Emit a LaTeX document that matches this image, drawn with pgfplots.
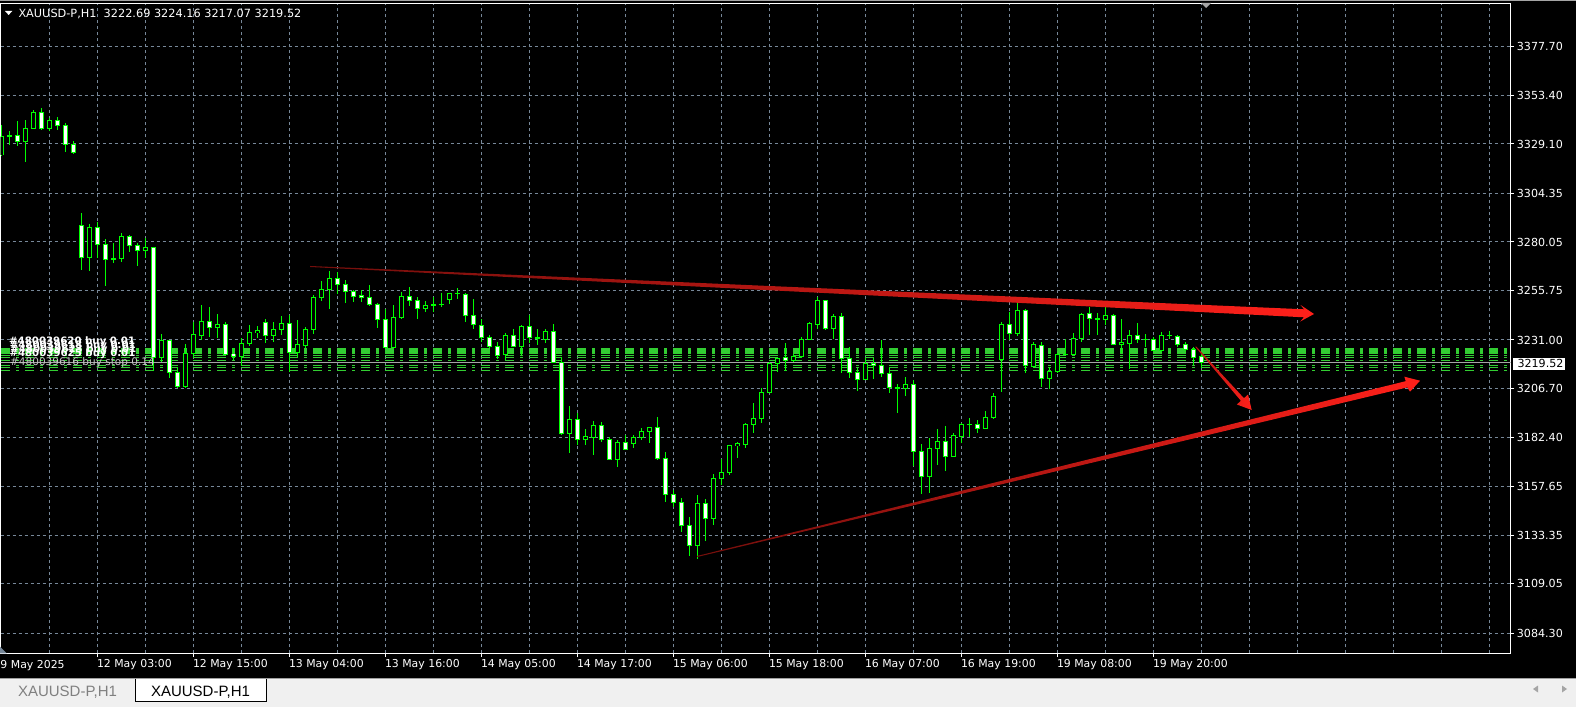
\documentclass[border=0pt]{standalone}
\usepackage{pgfplots}
\pgfplotsset{compat=1.18}
\usepackage{pgfplotstable}
\usepackage{fontspec}
\setmainfont{DejaVu Sans}
\newfontfamily\tabfont{Liberation Sans}
\definecolor{gridc}{RGB}{119,136,153}
\definecolor{cg}{RGB}{0,255,0}
\definecolor{ordg}{RGB}{50,205,50}
\definecolor{arred}{RGB}{255,32,26}
\definecolor{tabbg}{RGB}{240,240,240}
\definecolor{bidg}{RGB}{165,165,165}
\newcommand\fs[1]{\fontsize{#1}{#1}\selectfont}

\pgfplotstableread{
i o h l c
0 3323.6 3338.6 3323.3 3333.1
1 3333.2 3335.5 3328.8 3333.3
2 3333.3 3340.5 3328.2 3330.3
3 3330.2 3341.2 3320.2 3336.8
4 3336.8 3346.0 3336.5 3344.8
5 3344.8 3347.3 3336.2 3336.8
6 3336.8 3342.2 3335.5 3340.8
7 3340.8 3342.8 3336.2 3338.5
8 3338.3 3339.8 3325.2 3328.8
9 3328.8 3330.5 3324.2 3324.8
10 3288.5 3294.7 3266.0 3272.3
11 3272.2 3289.0 3265.7 3287.3
12 3287.3 3290.2 3271.8 3278.8
13 3278.8 3281.8 3258.2 3271.3
14 3271.5 3279.5 3269.3 3271.8
15 3271.8 3284.5 3270.2 3282.8
16 3282.8 3283.8 3275.2 3278.2
17 3278.3 3279.8 3268.2 3275.8
18 3275.8 3281.8 3272.2 3277.3
19 3277.3 3277.7 3215.5 3222.3
20 3222.3 3234.0 3220.2 3230.7
21 3230.7 3230.7 3212.2 3214.8
22 3214.8 3217.7 3206.8 3207.7
23 3207.7 3229.0 3206.8 3224.3
24 3224.3 3240.2 3222.0 3233.5
25 3233.2 3248.5 3231.0 3240.5
26 3240.5 3247.5 3232.7 3237.2
27 3237.2 3243.8 3232.2 3238.8
28 3238.8 3239.8 3223.5 3223.8
29 3224.0 3227.2 3220.8 3222.8
30 3222.7 3231.8 3218.0 3229.3
31 3229.3 3238.5 3228.2 3234.8
32 3234.7 3238.0 3231.8 3235.8
33 3239.8 3241.5 3229.3 3233.2
34 3233.2 3240.2 3230.2 3236.5
35 3236.5 3243.0 3233.5 3239.3
36 3239.3 3243.5 3215.2 3224.7
37 3224.7 3241.0 3222.7 3228.5
38 3228.2 3237.7 3226.8 3236.5
39 3236.2 3253.5 3234.0 3252.5
40 3252.2 3260.5 3250.5 3256.3
41 3256.3 3265.5 3246.5 3261.8
42 3261.8 3264.8 3253.8 3258.8
43 3258.8 3261.0 3249.7 3255.2
44 3255.2 3256.0 3250.2 3252.7
45 3253.5 3256.0 3250.2 3252.2
46 3252.3 3258.5 3248.2 3248.8
47 3248.8 3249.3 3236.8 3241.3
48 3241.3 3246.5 3226.8 3227.2
49 3227.2 3248.5 3226.8 3242.3
50 3242.3 3255.2 3241.5 3253.0
51 3253.0 3257.3 3248.0 3250.7
52 3251.0 3252.3 3241.5 3246.7
53 3246.7 3250.3 3245.0 3248.3
54 3248.7 3252.3 3245.0 3248.7
55 3249.0 3254.7 3247.3 3249.0
56 3251.3 3254.3 3249.0 3254.3
57 3254.3 3257.0 3251.7 3254.3
58 3253.8 3254.3 3240.0 3243.3
59 3243.3 3251.5 3236.7 3238.7
60 3238.3 3241.3 3230.2 3232.3
61 3232.3 3233.5 3226.8 3227.7
62 3227.8 3230.2 3221.3 3223.2
63 3223.7 3234.3 3221.0 3233.3
64 3233.5 3236.3 3227.7 3228.0
65 3228.0 3238.5 3223.5 3238.0
66 3238.0 3243.5 3229.7 3232.3
67 3232.2 3236.3 3228.5 3232.2
68 3231.5 3236.3 3229.3 3235.5
69 3235.5 3239.0 3219.3 3219.7
70 3219.7 3222.3 3183.5 3184.0
71 3184.0 3198.0 3174.3 3191.0
72 3191.0 3194.3 3178.5 3181.3
73 3181.2 3186.5 3178.5 3182.5
74 3182.3 3190.7 3173.5 3188.0
75 3188.0 3190.0 3180.2 3181.3
76 3181.3 3182.3 3171.0 3171.3
77 3171.3 3181.0 3167.2 3179.8
78 3179.8 3183.2 3176.3 3176.3
79 3179.3 3183.3 3176.7 3182.3
80 3182.3 3186.8 3180.7 3185.3
81 3185.3 3187.3 3179.7 3187.3
82 3187.3 3192.5 3170.7 3171.8
83 3171.8 3174.8 3149.8 3153.8
84 3153.8 3156.0 3147.3 3149.8
85 3149.8 3151.8 3134.7 3138.0
86 3138.0 3142.3 3122.7 3128.3
87 3128.3 3153.5 3121.3 3149.3
88 3149.3 3151.5 3130.2 3141.8
89 3141.8 3164.0 3138.2 3161.8
90 3161.8 3171.3 3158.5 3164.8
91 3164.8 3178.5 3163.2 3178.0
92 3178.0 3179.8 3171.8 3179.0
93 3178.8 3189.3 3176.8 3188.5
94 3188.5 3199.3 3184.7 3191.8
95 3191.8 3206.8 3189.7 3204.8
96 3204.8 3220.2 3204.3 3219.3
97 3219.3 3221.8 3215.2 3221.8
98 3222.2 3229.3 3215.5 3220.8
99 3220.8 3224.0 3220.2 3222.7
100 3222.7 3232.7 3221.8 3231.3
101 3231.3 3240.2 3231.0 3239.3
102 3238.8 3252.3 3236.3 3251.0
103 3251.0 3251.0 3236.0 3236.7
104 3236.7 3244.0 3231.3 3243.0
105 3243.0 3244.3 3214.7 3221.8
106 3221.8 3227.3 3212.2 3214.7
107 3214.7 3216.8 3205.7 3211.3
108 3211.3 3221.8 3211.0 3219.3
109 3219.3 3221.8 3211.3 3218.3
110 3218.2 3231.0 3212.3 3214.3
111 3214.3 3217.7 3204.7 3207.3
112 3207.2 3209.0 3194.7 3207.2
113 3206.7 3212.3 3203.0 3208.8
114 3208.8 3211.0 3168.0 3175.3
115 3175.3 3179.0 3153.8 3162.7
116 3162.7 3181.7 3154.3 3176.8
117 3176.8 3186.3 3168.5 3180.3
118 3180.3 3188.0 3165.2 3172.7
119 3172.7 3184.7 3172.2 3183.0
120 3182.7 3189.3 3179.3 3188.8
121 3188.8 3191.8 3182.7 3188.8
122 3188.8 3191.0 3184.3 3186.8
123 3186.8 3195.5 3186.3 3192.3
124 3192.3 3204.3 3191.7 3202.7
125 3221.0 3240.2 3205.2 3238.8
126 3238.8 3245.2 3231.0 3234.3
127 3234.3 3249.3 3233.0 3245.7
128 3245.7 3246.3 3214.3 3218.0
129 3217.7 3230.2 3217.3 3228.5
130 3228.5 3230.2 3207.7 3211.8
131 3211.8 3217.7 3206.3 3215.3
132 3215.3 3224.3 3214.3 3223.8
133 3223.8 3231.3 3223.5 3223.8
134 3223.8 3234.3 3223.5 3231.8
135 3231.8 3244.3 3230.2 3243.8
136 3244.3 3247.3 3233.5 3241.8
137 3241.7 3244.7 3233.5 3241.7
138 3241.3 3247.7 3238.5 3243.3
139 3243.3 3244.0 3228.5 3228.8
140 3228.8 3241.3 3224.3 3229.8
141 3229.3 3236.0 3216.3 3233.3
142 3233.3 3239.3 3229.3 3231.3
143 3231.3 3234.0 3227.3 3231.3
144 3231.3 3232.7 3225.7 3226.0
145 3226.0 3235.2 3225.2 3233.3
146 3233.3 3235.3 3231.3 3233.3
147 3232.7 3233.3 3227.3 3228.8
148 3228.8 3230.2 3225.7 3226.3
149 3226.3 3227.7 3218.5 3222.2
150 3222.69 3224.16 3217.07 3219.52
}\candles

\begin{document}
\begin{tikzpicture}[x=1pt,y=1pt]
\useasboundingbox (0,0) rectangle (1576,707);
\fill[black] (0,0) rectangle (1576,707);
\fill[bidg] (0,705.6) rectangle (1576,707);
% tab bar
\fill[tabbg] (0,0) rectangle (1576,28.7);
\draw[line width=1pt, color={rgb,255:red,160;green,160;blue,160}] (0,28.5) -- (1576,28.5);
\fill[white] (135.5,5.5) rectangle (266.5,28.5);
\draw[black, line width=1pt] (135.5,28.5) -- (135.5,5.5) -- (266.5,5.5) -- (266.5,28.5);
\node[anchor=base, inner sep=0pt, text={rgb,255:red,128;green,128;blue,128}, font=\tabfont\fs{15}] at (67.5,10.3) {XAUUSD-P,H1};
\node[anchor=base, inner sep=0pt, text=black, font=\tabfont\fs{15}] at (200.5,10.3) {XAUUSD-P,H1};
\fill[bidg] (1538,14.5) -- (1533,18) -- (1538,21.5) -- cycle;
\fill[bidg] (1562,14.5) -- (1567,18) -- (1562,21.5) -- cycle;

\begin{axis}[
  at={(0.5pt,53.7pt)}, anchor=south west,
  scale only axis, width=1510pt, height=650pt,
  xmin=-0.1, xmax=188.65, ymin=3074.19, ymax=3399.52,
  axis line style={white, line width=1pt},
  tick align=outside,
  major tick length=3.5pt, minor tick length=0pt,
  tick style={white, line width=1pt},
  xtick pos=left, ytick pos=right, yticklabel pos=right,
  xtick={12,24,36,48,60,72,84,96,108,120,132,144},
  xticklabels={12 May 03:00,12 May 15:00,13 May 04:00,13 May 16:00,14 May 05:00,14 May 17:00,15 May 06:00,15 May 18:00,16 May 07:00,16 May 19:00,19 May 08:00,19 May 20:00},
  minor xtick={6,18,30,42,54,66,78,90,102,114,126,138,150,156,162,168,174,180,186},
  ytick={3084.30,3109.05,3133.35,3157.65,3182.40,3206.70,3231.00,3255.75,3280.05,3304.35,3329.10,3353.40,3377.70},
  yticklabels={3084.30,3109.05,3133.35,3157.65,3182.40,3206.70,3231.00,3255.75,3280.05,3304.35,3329.10,3353.40,3377.70},
  grid=both,
  major grid style={gridc, line width=1pt, dash pattern=on 3pt off 3pt},
  minor grid style={gridc, line width=1pt, dash pattern=on 3pt off 3pt},
  xticklabel style={font=\fs{10.9}, text=white, anchor=base west, inner sep=0pt, xshift=-0.5pt, yshift=-11pt},
  yticklabel style={font=\fs{11.1}, text=white, anchor=west, inner sep=0pt, xshift=2.7pt},
]
% order lines
\addplot[ordg, line width=6.3pt, dash pattern=on 9pt off 6pt on 3pt off 6pt, forget plot] coordinates {(-0.0375,3225.57) (189,3225.57)};
\addplot[ordg, line width=1pt, dash pattern=on 9pt off 6pt on 3pt off 6pt, forget plot] coordinates {(-0.0375,3223.14) (189,3223.14)};
\addplot[ordg, line width=1pt, dash pattern=on 9pt off 6pt on 3pt off 6pt, forget plot] coordinates {(-0.0375,3221.99) (189,3221.99)};
\addplot[ordg, line width=1pt, dash pattern=on 9pt off 6pt on 3pt off 6pt, forget plot] coordinates {(-0.0375,3220.84) (189,3220.84)};
\addplot[ordg, line width=1pt, dash pattern=on 9pt off 6pt on 3pt off 6pt, forget plot] coordinates {(-0.0375,3218.34) (189,3218.34)};
\addplot[ordg, line width=1pt, dash pattern=on 9pt off 6pt on 3pt off 6pt, forget plot] coordinates {(-0.0375,3217.14) (189,3217.14)};
\addplot[ordg, line width=1pt, dash pattern=on 9pt off 6pt on 3pt off 6pt, forget plot] coordinates {(-0.0375,3215.98) (189,3215.98)};
% bid line
\addplot[bidg, line width=1pt, forget plot] coordinates {(-1,3219.52) (190,3219.52)};
% wicks
\addplot[draw=none, mark=none, forget plot, error bars/.cd, y dir=both, y explicit, error mark=none,
  error bar style={draw=cg, solid, line width=1pt}]
  table[x=i, y expr={(\thisrow{h}+\thisrow{l})/2}, y error expr={(\thisrow{h}-\thisrow{l})/2}] {\candles};
% body outline
\addplot[draw=none, mark=none, forget plot, error bars/.cd, y dir=both, y explicit, error mark=none,
  error bar style={draw=cg, solid, line width=5pt}]
  table[x=i, y expr={(\thisrow{o}+\thisrow{c})/2}, y error expr={abs(\thisrow{c}-\thisrow{o})/2+0.25}] {\candles};
% bear inner (white)
\addplot[draw=none, mark=none, forget plot, error bars/.cd, y dir=both, y explicit, error mark=none,
  error bar style={draw=white, solid, line width=3pt}]
  table[x=i, y expr={(\thisrow{o}+\thisrow{c})/2}, y error expr={max(0,(\thisrow{o}-\thisrow{c})/2-0.25)}] {\candles};
% bull inner (black)
\addplot[draw=none, mark=none, forget plot, error bars/.cd, y dir=both, y explicit, error mark=none,
  error bar style={draw=black, solid, line width=3pt}]
  table[x=i, y expr={(\thisrow{o}+\thisrow{c})/2}, y error expr={max(0,(\thisrow{c}-\thisrow{o})/2-0.25)}] {\candles};
% red arrows (drawn objects)
\addplot[draw=none, left color=arred!45!black, right color=arred, forget plot] coordinates {
 (38.59,3268.04) (162.84,3246.37) (162.40,3248.52) (164.09,3244.01) (162.34,3240.21) (162.84,3242.36) (38.59,3267.54)} -- cycle;
\addplot[draw=none, left color=arred!45!black, right color=arred, forget plot] coordinates {
 (86.95,3122.89) (175.55,3210.38) (175.38,3212.63) (177.34,3210.63) (176.09,3205.12) (175.75,3207.28) (86.98,3122.39)} -- cycle;
\addplot[draw=none, left color=arred!70!black, right color=arred, forget plot] coordinates {
 (149.35,3227.80) (155.33,3201.87) (155.84,3203.72) (156.30,3195.96) (154.44,3198.72) (154.95,3200.57) (149.25,3227.50)} -- cycle;
\end{axis}

% title
\fill[white] (5,696) -- (12.3,696) -- (8.65,692) -- cycle;
\node[anchor=base west, inner sep=0pt, text=white, font=\fs{11.3}] at (18.3,689.6) {XAUUSD-P,H1~~3222.69 3224.16 3217.07 3219.52};
% first date label
\node[anchor=base west, inner sep=0pt, text=white, font=\fs{10.9}] at (0.3,38.7) {9 May 2025};
% chart shift markers
\fill[bidg] (1201,704) -- (1211,704) -- (1206,699) -- cycle;
\fill[gridc] (0,53.7) -- (0,60.3) -- (6.7,53.7) -- cycle;
% bid price box
\fill[white] (1512.7,337) rectangle (1565.3,349.3);
\node[anchor=base west, inner sep=0pt, text=black, font=\fs{11.1}] at (1517.3,339.1) {3219.52};
% order labels (overlapping, as in the terminal)
\begin{scope}[every node/.style={anchor=base west, inner sep=0pt, text=white, font=\bfseries\fs{10.2}}]
\node at (9.0,362.0) {\#480039620 buy 0.01};
\node at (9.6,358.0) {\#480039618 buy 0.01};
\node at (10.2,354.5) {\#480039623 buy 0.01};
\node at (9.3,350.5) {\#480039625 buy 0.01};
\end{scope}
\node[anchor=base west, inner sep=0pt, text={rgb,255:red,200;green,200;blue,200}, font=\fs{10.5}] at (10,341) {\#480039616 buy stop 0.14};
\end{tikzpicture}
\end{document}
